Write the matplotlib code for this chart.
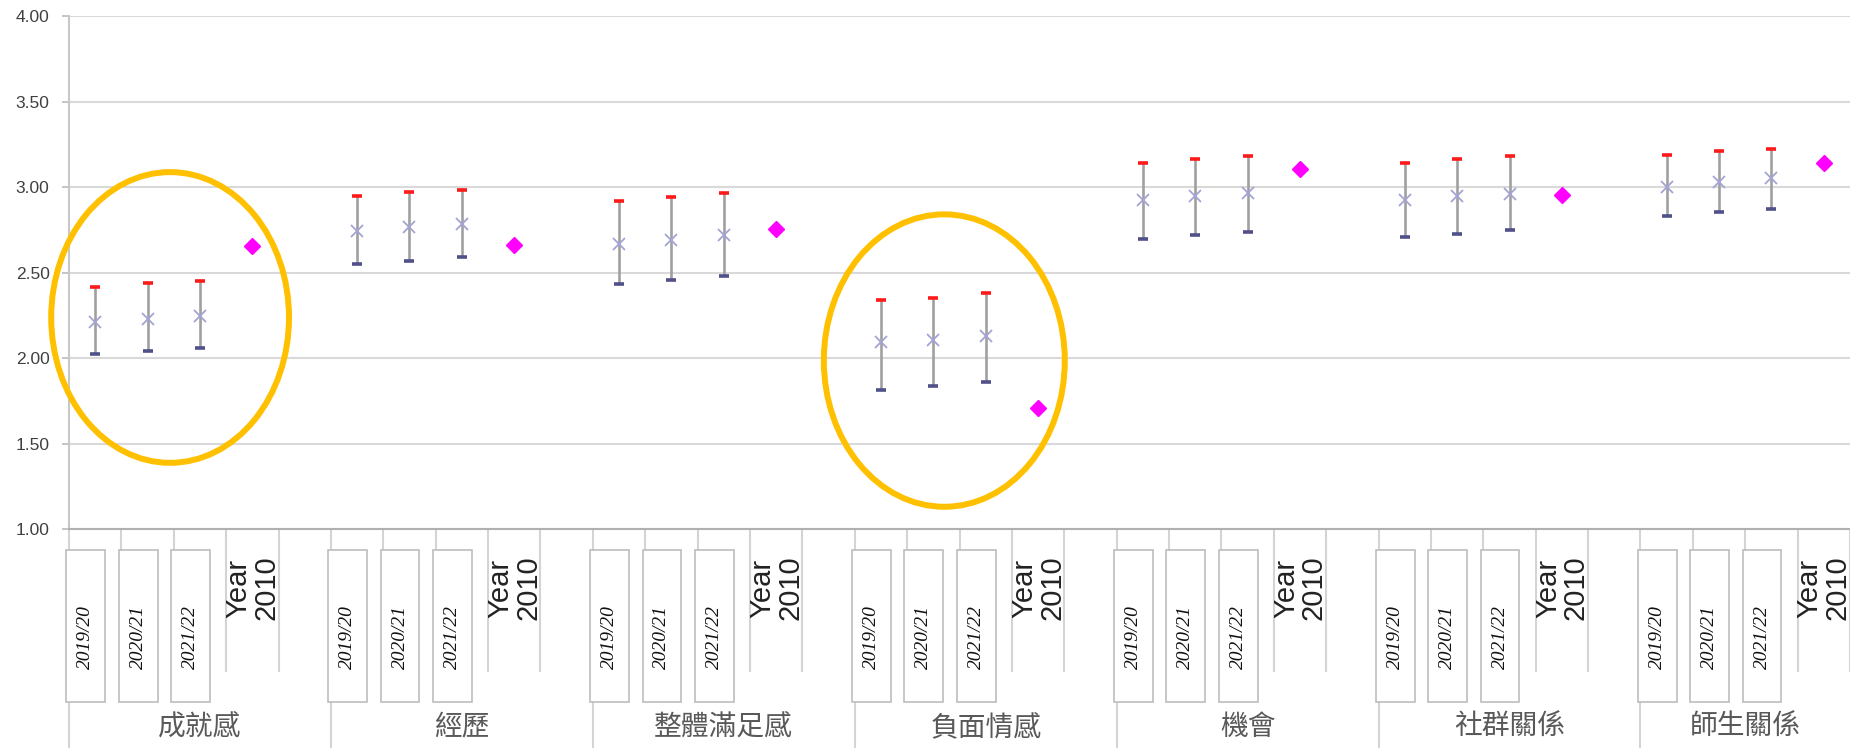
import matplotlib
matplotlib.use("Agg")
import matplotlib.pyplot as plt
from matplotlib.patches import Rectangle, Ellipse
import numpy as np

# categories
groups = ["成就感", "經歷", "整體滿足感", "負面情感", "機會", "社群關係", "師生關係"]
years = ["2019/20", "2020/21", "2021/22"]
ref_label = "Year\n2010"

# per group: three survey years (mean, upper, lower) and the 2010 reference
mean_vals = [
    [2.21, 2.23, 2.245],
    [2.74, 2.765, 2.784],
    [2.667, 2.69, 2.719],
    [2.092, 2.104, 2.131],
    [2.925, 2.95, 2.964],
    [2.925, 2.95, 2.96],
    [3.00, 3.03, 3.05],
]
upper_vals = [
    [2.415, 2.437, 2.453],
    [2.945, 2.97, 2.984],
    [2.917, 2.939, 2.964],
    [2.339, 2.353, 2.378],
    [3.14, 3.164, 3.18],
    [3.14, 3.164, 3.18],
    [3.187, 3.208, 3.224],
]
lower_vals = [
    [2.025, 2.04, 2.06],
    [2.55, 2.567, 2.59],
    [2.433, 2.459, 2.482],
    [1.81, 1.836, 1.857],
    [2.695, 2.72, 2.735],
    [2.71, 2.726, 2.75],
    [2.83, 2.853, 2.871],
]
year2010_vals = [2.657, 2.66, 2.755, 1.71, 3.104, 2.955, 3.143]

# highlighted groups (index of group in `groups`)
highlight = [0, 3]

SLOTS = 5  # 3 years, Year 2010, blank
W, H = 1850, 748

fig = plt.figure(figsize=(W / 100, H / 100), dpi=100)
ax = fig.add_axes([69 / W, 1 - 529 / H, (W - 69) / W, 513 / H])

n = len(groups)
xs_years = np.array([[g * SLOTS + j for j in range(3)] for g in range(n)])
xs_ref = np.array([g * SLOTS + 3 for g in range(n)])

mean_arr = np.array(mean_vals)
up_arr = np.array(upper_vals)
lo_arr = np.array(lower_vals)

ax.vlines(xs_years.ravel(), lo_arr.ravel(), up_arr.ravel(),
          color="#a0a0a0", lw=1.9, zorder=3)
ax.plot(xs_years.ravel(), up_arr.ravel(), ls="none", marker="_", ms=7,
        mew=2.6, color="#ff1a1a", zorder=4)
ax.plot(xs_years.ravel(), lo_arr.ravel(), ls="none", marker="_", ms=7,
        mew=2.6, color="#50508a", zorder=4)
ax.plot(xs_years.ravel(), mean_arr.ravel(), ls="none", marker="x", ms=9,
        mew=1.3, color="#a3a3d4", zorder=5)
ax.plot(xs_ref, year2010_vals, ls="none", marker="D", ms=8.5,
        color="#ff00ff", mec="#ff00ff", zorder=5)

x_right = SLOTS * n - 1.5
ax.set_xlim(-0.5, x_right)
ax.set_ylim(1, 4)

# y axis
yt = np.arange(1.0, 4.01, 0.5)
ax.set_yticks(yt)
ax.set_yticklabels([f"{v:.2f}" for v in yt], fontsize=12.5,
                   color="#404040", family="Liberation Sans")
ax.tick_params(axis="y", length=5, width=1.3, color="#bfbfbf", pad=9)
ax.yaxis.grid(True, color="#d9d9d9", lw=1.5)
ax.set_axisbelow(True)

for s in ["top", "right"]:
    ax.spines[s].set_visible(False)
ax.spines["left"].set_color("#c8c8c8")
ax.spines["left"].set_linewidth(1.5)
ax.spines["bottom"].set_color("#b0b0b0")
ax.spines["bottom"].set_linewidth(1.5)

# x axis: long separator ticks, labels drawn by hand
major = [g * SLOTS - 0.5 for g in range(n)]
minor = [g * SLOTS + j - 0.5 for g in range(n) for j in range(1, SLOTS)]
ax.set_xticks(major)
ax.set_xticks(minor, minor=True)
ax.set_xticklabels([])
ax.tick_params(axis="x", which="major", direction="out", length=158,
               width=1.5, color="#d4d4d4")
ax.tick_params(axis="x", which="minor", direction="out", length=103,
               width=1.5, color="#d4d4d4")

trans = ax.get_xaxis_transform()
for g in range(n):
    for j, lab in enumerate(years):
        c = g * SLOTS + j
        ax.add_patch(Rectangle((c - 0.55, -0.337), 0.74, 0.296,
                               transform=trans, clip_on=False,
                               fc="white", ec="#bdbdbd", lw=1.2, zorder=6))
        ax.text(c - 0.18, -0.21, lab, transform=trans, rotation=90,
                ha="center", va="center", fontsize=14, style="italic",
                family="Liberation Serif", color="#111111", zorder=7,
                clip_on=False)
    ax.text(g * SLOTS + 3, -0.052, ref_label, transform=trans, rotation=90,
            ha="center", va="top", fontsize=21, family="Liberation Sans",
            color="#222222", linespacing=1.0, clip_on=False)
    start = g * SLOTS - 0.5
    end = min(start + SLOTS, x_right)
    ax.text((start + end) / 2, -0.386, groups[g], transform=trans,
            ha="center", va="center", fontsize=20,
            family=["Noto Sans CJK TC", "DejaVu Sans"], color="#595959",
            clip_on=False)

# orange highlight ellipses
ell_offset = [1.43, 1.21]
ell_width = [4.54, 4.6]
ell_height = [1.70, 1.71]
for k, g in enumerate(highlight):
    cy = (np.mean(mean_vals[g]) + year2010_vals[g]) / 2
    cy = [2.237, 1.985][k]
    ax.add_patch(Ellipse((g * SLOTS + ell_offset[k], cy), ell_width[k],
                         ell_height[k], fill=False, ec="#ffc000", lw=4.3,
                         zorder=8, clip_on=False))

fig.savefig("out.png", dpi=100, facecolor="white")
